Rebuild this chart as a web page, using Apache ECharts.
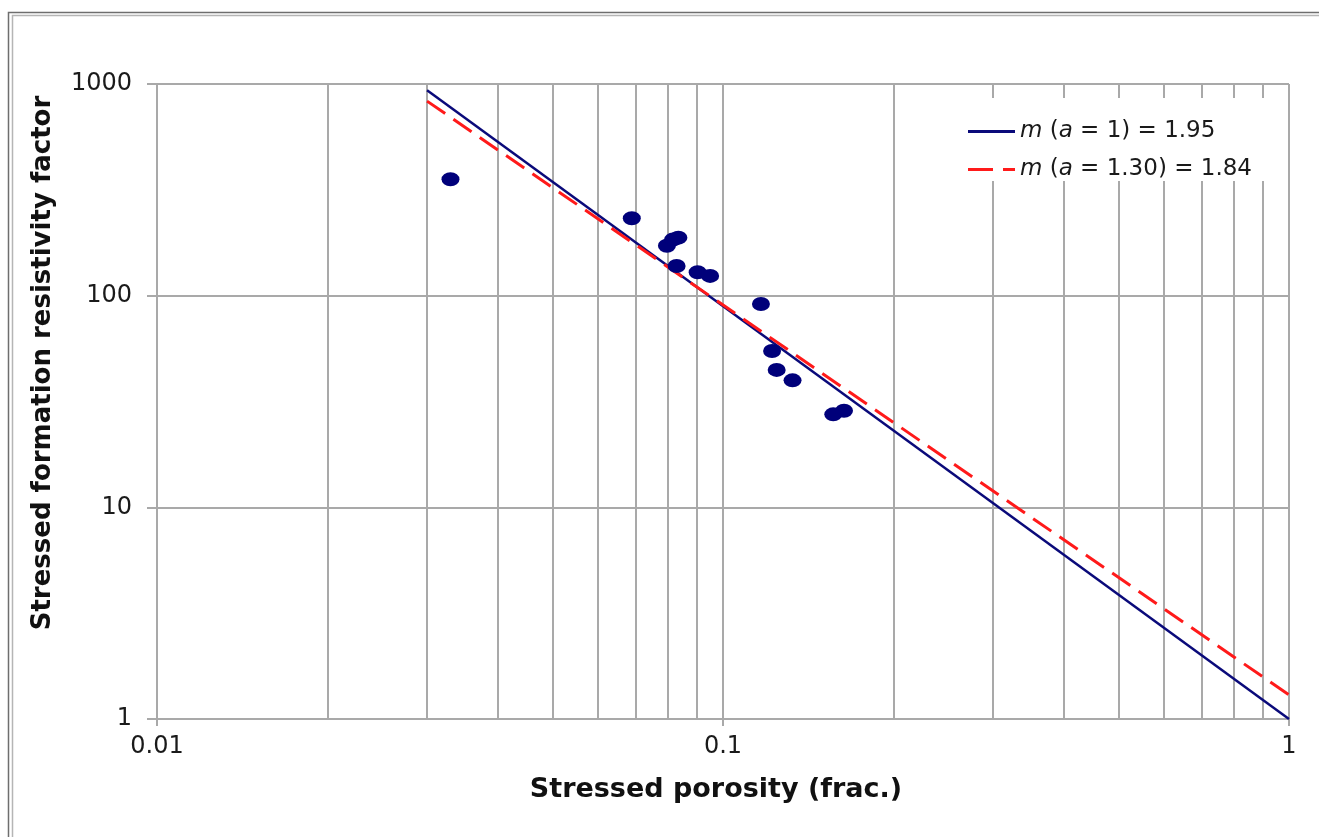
<!DOCTYPE html>
<html>
<head>
<meta charset="utf-8">
<script src="https://cdn.jsdelivr.net/npm/echarts@6/dist/echarts.min.js"></script>
<style>
  html, body { margin: 0; padding: 0; background: #fff; }
  #chart { width: 1319px; height: 837px; }
</style>
</head>
<body>
<div id="chart"></div>
<script>
// measured points (porosity, formation factor)
var porosity = [0.033, 0.069, 0.0796, 0.0816, 0.0834, 0.0828, 0.0902, 0.0949,
                0.1167, 0.1221, 0.1244, 0.1327, 0.1566, 0.1636];
var factor = [355, 232, 172, 184, 188, 138, 129, 124, 91.4, 54.8, 44.6, 39.8, 27.5, 28.6];

// fitted lines, end points
var fitA1 = [[0.03, 935], [1, 1]];
var fitA130 = [[0.03, 830], [1, 1.3]];

// vertical minor grid lines at 2..9 of each decade
var minorX = [0.02, 0.03, 0.04, 0.05, 0.06, 0.07, 0.08, 0.09,
              0.2, 0.3, 0.4, 0.5, 0.6, 0.7, 0.8, 0.9];

var nameA1 = 'm (a = 1) = 1.95';
var nameA130 = 'm (a = 1.30) = 1.84';

var blue = '#0a0a7a';
var red = '#ff1a1a';
var gridGray = '#a9a9a9';
var labelFont = 'DejaVu Sans';

var points = [];
for (var i = 0; i < porosity.length; i++) {
    points.push([porosity[i], factor[i]]);
}

var chart = echarts.init(document.getElementById('chart'));

var option = {
    backgroundColor: '#fff',
    animation: false,
    graphic: [
        {
            type: 'rect', z: -10, silent: true,
            shape: { x: 8.5, y: 12.5, width: 1400, height: 900 },
            style: { fill: null, stroke: '#6e6e6e', lineWidth: 1.5 }
        },
        {
            type: 'rect', z: -10, silent: true,
            shape: { x: 12.5, y: 15.5, width: 1400, height: 900 },
            style: { fill: null, stroke: '#b5b5b5', lineWidth: 1.5 }
        }
    ],
    grid: {
        left: 157,
        right: 30,
        top: 84,
        bottom: 118,
        containLabel: false
    },
    legend: {
        data: [
            { name: nameA1, icon: 'path://M0,0 H47 V3 H0 Z', itemStyle: { color: blue } },
            { name: nameA130, icon: 'path://M0,0 H25 V3 H0 Z M35,0 H47 V3 H35 Z', itemStyle: { color: red } }
        ],
        orient: 'vertical',
        left: 955,
        top: 98,
        padding: [22, 35, 0, 13],
        itemGap: 15,
        itemWidth: 47,
        itemHeight: 3,
        z: 20,
        backgroundColor: '#fff',
        formatter: function (name) {
            if (name === nameA1) {
                return '{i|m} ({i|a} = 1) = 1.95';
            }
            return '{i|m} ({i|a} = 1.30) = 1.84';
        },
        textStyle: {
            fontFamily: labelFont,
            fontSize: 23,
            color: '#1a1a1a',
            rich: {
                i: { fontStyle: 'italic', fontFamily: labelFont, fontSize: 23, color: '#1a1a1a' }
            }
        }
    },
    xAxis: {
        type: 'log',
        logBase: 10,
        min: 0.01,
        max: 1,
        name: 'Stressed porosity (frac.)',
        nameLocation: 'middle',
        nameGap: 57,
        nameTextStyle: {
            fontFamily: labelFont,
            fontWeight: 'bold',
            fontSize: 27,
            color: '#111',
            padding: [0, 14, 0, 0]
        },
        axisLine: { show: true, lineStyle: { color: gridGray, width: 2 } },
        axisTick: { show: true, inside: false, length: 7, lineStyle: { color: gridGray, width: 2 } },
        axisLabel: {
            margin: 16,
            fontFamily: labelFont,
            fontSize: 24,
            color: '#1a1a1a',
            formatter: function (v) { return String(+v.toPrecision(3)); }
        },
        splitLine: { show: true, lineStyle: { color: gridGray, width: 2 } },
        minorTick: { show: false },
        minorSplitLine: { show: false }
    },
    yAxis: {
        type: 'log',
        logBase: 10,
        min: 1,
        max: 1000,
        name: 'Stressed formation resistivity factor',
        nameLocation: 'middle',
        nameGap: 101,
        nameTextStyle: {
            fontFamily: labelFont,
            fontWeight: 'bold',
            fontSize: 26,
            color: '#111',
            padding: [0, 0, 0, 77]
        },
        axisLine: { show: true, lineStyle: { color: gridGray, width: 2 } },
        axisTick: { show: true, inside: false, length: 10, lineStyle: { color: gridGray, width: 2 } },
        axisLabel: {
            margin: 25,
            fontFamily: labelFont,
            fontSize: 24,
            color: '#1a1a1a',
            formatter: function (v) { return String(Math.round(v)); }
        },
        splitLine: { show: true, lineStyle: { color: gridGray, width: 2 } }
    },
    series: [
        {
            // carries the minor vertical grid lines
            name: 'minor-grid',
            type: 'line',
            data: [],
            z: 1,
            silent: true,
            markLine: {
                silent: true,
                z: 1,
                symbol: ['none', 'none'],
                label: { show: false },
                lineStyle: { color: gridGray, width: 2, type: 'solid' },
                emphasis: { disabled: true },
                data: minorX.map(function (v) { return { xAxis: v }; })
            }
        },
        {
            name: nameA1,
            type: 'line',
            data: fitA1,
            symbol: 'none',
            z: 3,
            lineStyle: { color: blue, width: 2.5, type: 'solid' },
            itemStyle: { color: blue }
        },
        {
            name: nameA130,
            type: 'line',
            data: fitA130,
            symbol: 'none',
            z: 3,
            lineStyle: { color: red, width: 3, type: [22, 10] },
            itemStyle: { color: red }
        },
        {
            name: 'data',
            type: 'scatter',
            data: points,
            symbol: 'circle',
            symbolSize: [18, 14],
            z: 4,
            itemStyle: { color: '#00007a', opacity: 1 }
        }
    ]
};

chart.setOption(option);
</script>
</body>
</html>
